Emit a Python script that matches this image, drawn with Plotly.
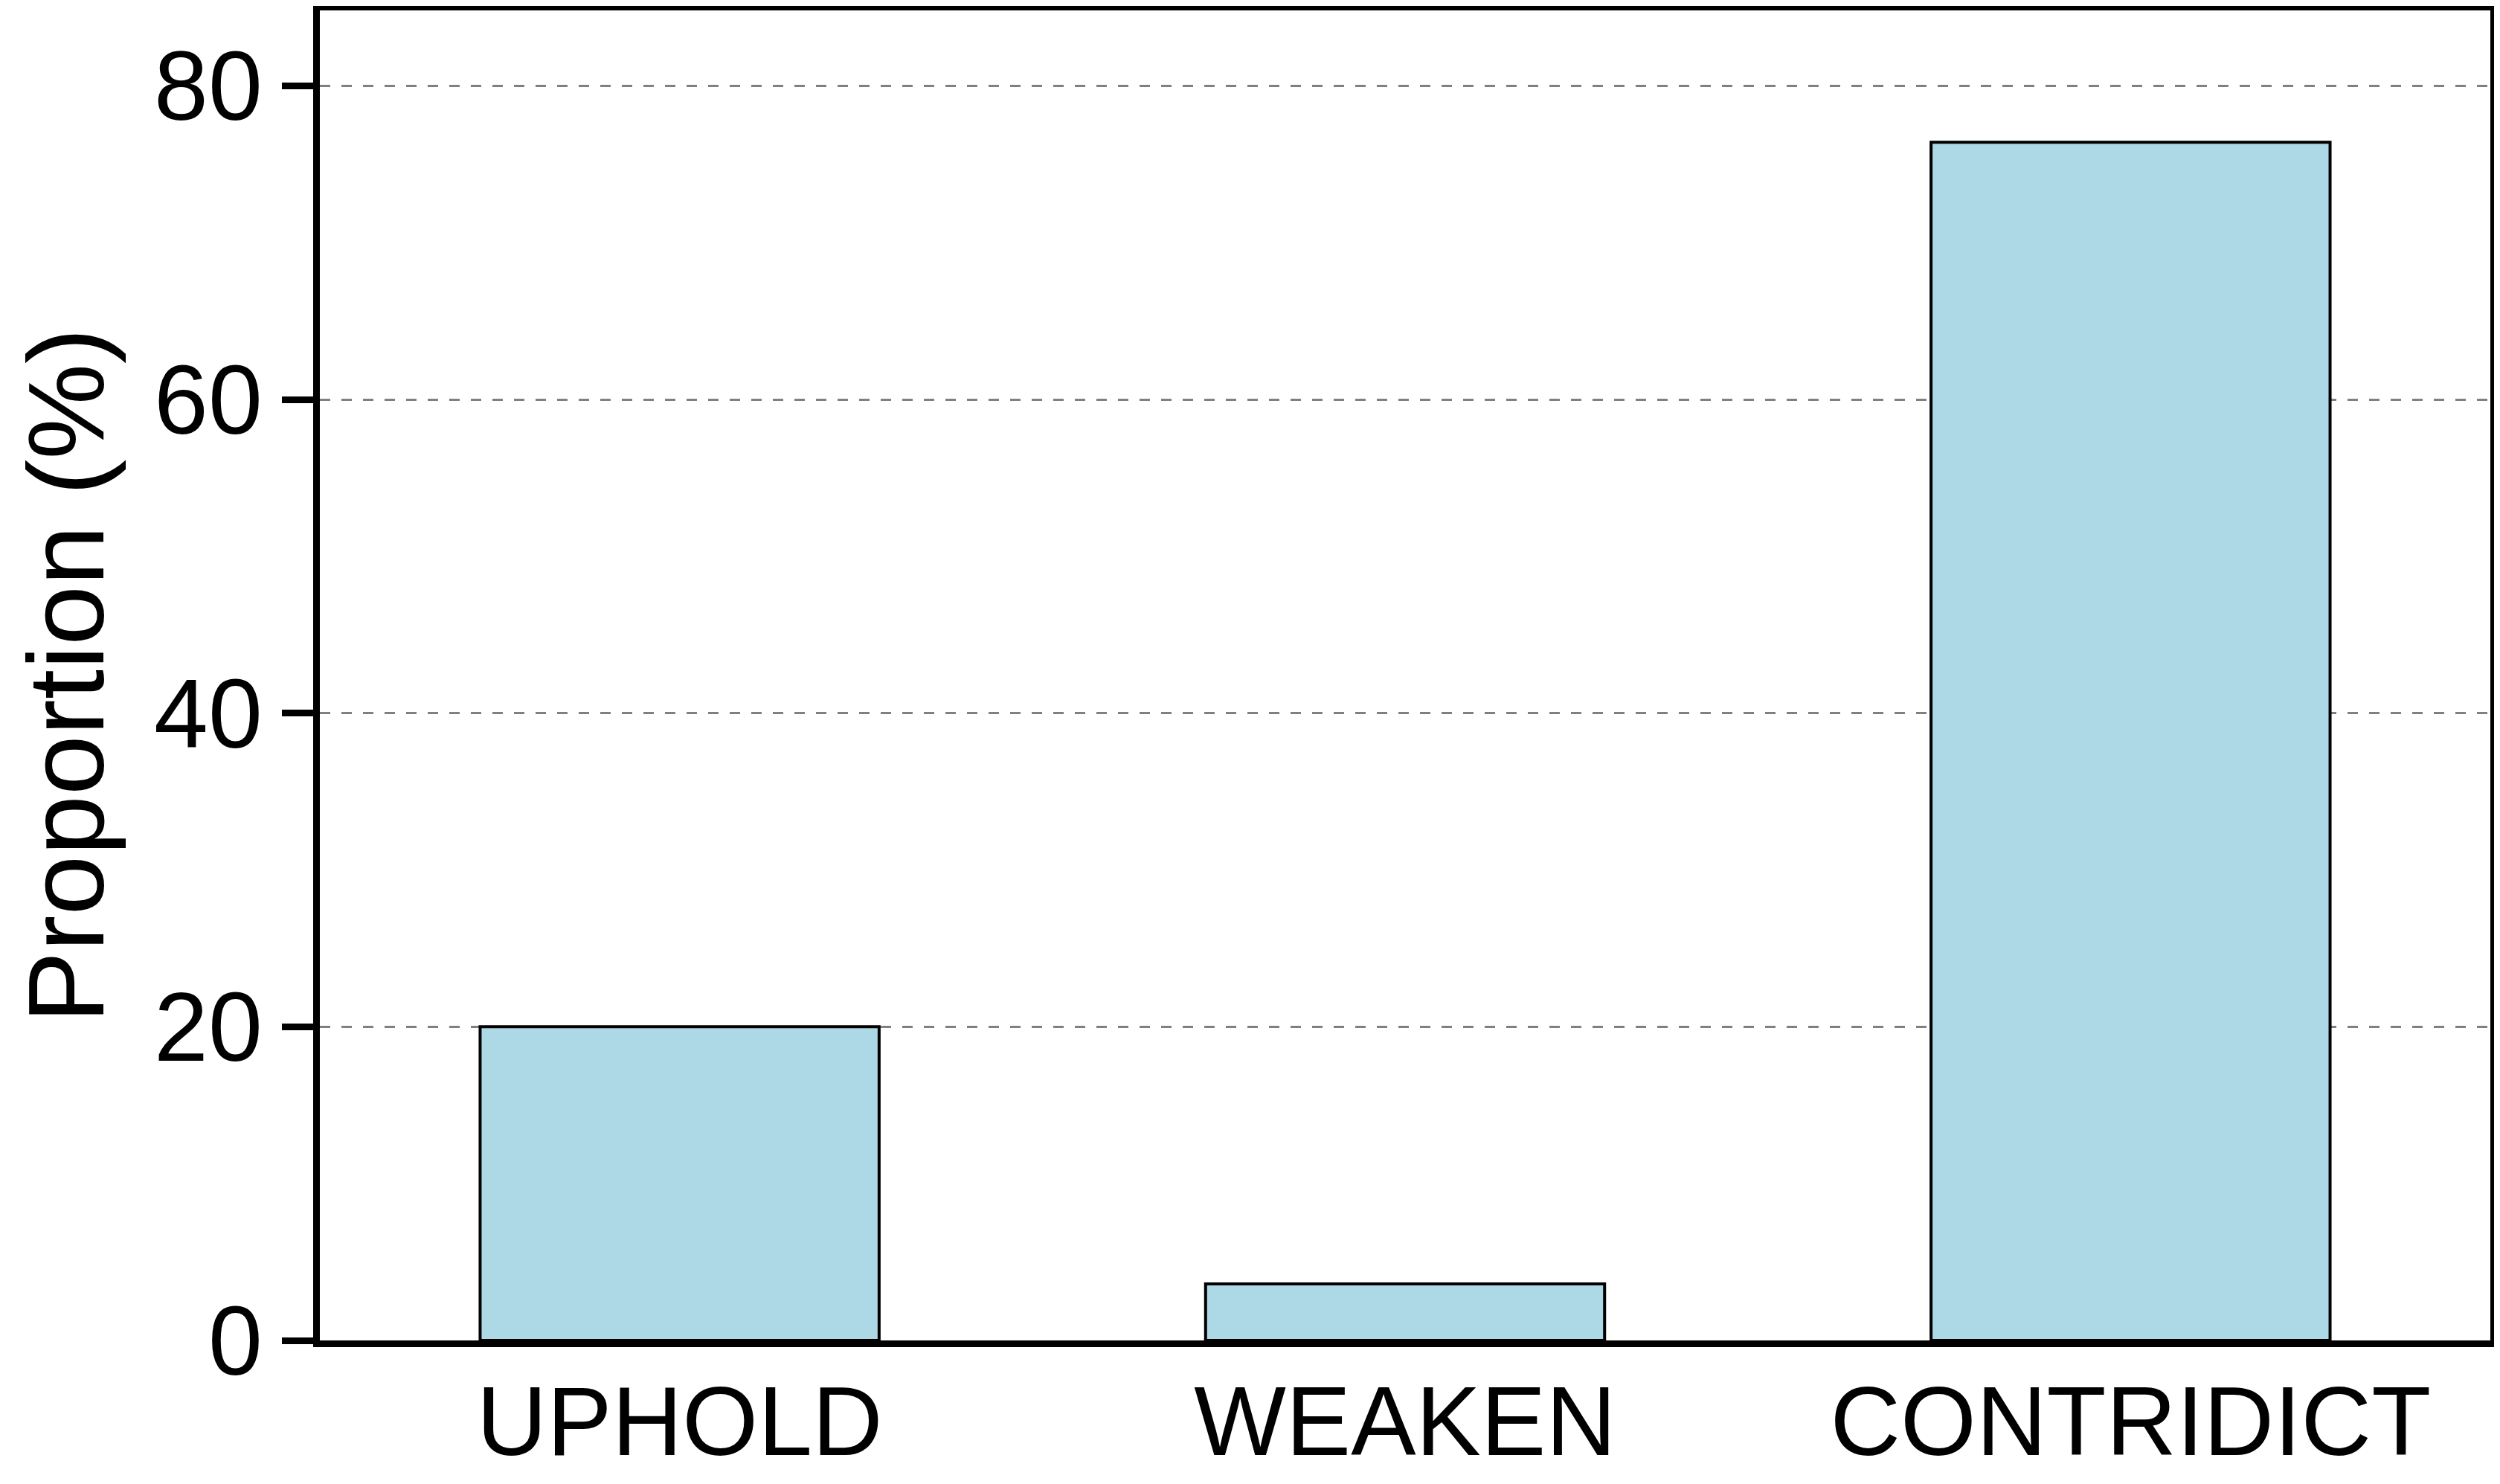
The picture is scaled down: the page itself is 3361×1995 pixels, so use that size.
import plotly.graph_objects as go

categories = ["UPHOLD", "WEAKEN", "CONTRIDICT"]
proportions = [20.0, 3.6, 76.4]
y_ticks = [0, 20, 40, 60, 80]

font_family = "Liberation Sans, Arial, sans-serif"

# axis lines are drawn outside the plot area, so pull the area in by half a line
# and adjust the ranges to match (page body also adds an 8px offset)
x_pad = 4 / 975.33
y_pad = 4 / 21.082

fig = go.Figure()
fig.add_trace(go.Bar(
    x=categories,
    y=proportions,
    width=0.55,
    marker=dict(color="#ADD8E6", line=dict(color="black", width=4)),
))

fig.update_layout(
    width=3361,
    height=1995,
    margin=dict(l=422, r=21, t=6, b=201, autoexpand=False),
    plot_bgcolor="white",
    paper_bgcolor="white",
    showlegend=False,
    font=dict(family=font_family, color="black"),
)

fig.update_xaxes(
    range=[-0.5 + x_pad, 2.5 - x_pad],
    automargin=False,
    showline=True, linewidth=9, linecolor="black", mirror=True,
    ticks="", showgrid=False,
    ticklabelstandoff=-12,
    tickfont=dict(size=131, family=font_family, color="black"),
)

fig.update_yaxes(
    range=[0, 85 - y_pad],
    tickvals=y_ticks,
    automargin=False,
    showline=True, linewidth=9, linecolor="black", mirror=True,
    ticks="outside", ticklen=42, tickwidth=9, tickcolor="black",
    showgrid=True, gridcolor="#808080", gridwidth=3, griddash="14px,15px",
    zeroline=False,
    tickfont=dict(size=131, family=font_family, color="black"),
    title=dict(text="Proportion (%)", font=dict(size=145, family=font_family, color="black"), standoff=30),
)

fig.write_html("out.html")
